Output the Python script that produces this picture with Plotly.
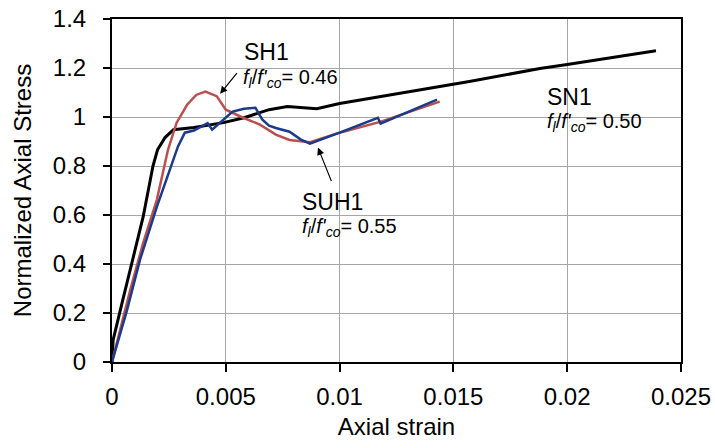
import plotly.graph_objects as go

# SN1 (black)
sn1_x = [0, 0.00005, 0.00044, 0.00093, 0.00137, 0.0018, 0.002, 0.00233, 0.0027, 0.0036, 0.0049,
         0.0058, 0.0069, 0.0077, 0.009, 0.01, 0.0122, 0.0157, 0.0188, 0.02, 0.0239]
sn1_y = [0, 0.09, 0.24, 0.43, 0.593, 0.80, 0.866, 0.916, 0.948, 0.957, 0.977,
         0.997, 1.03, 1.043, 1.034, 1.055, 1.09, 1.145, 1.198, 1.214, 1.27]

# SH1 (red)
sh1_x = [0, 0.0008, 0.00137, 0.00197, 0.00246, 0.00284, 0.0033, 0.0037, 0.0041, 0.0046, 0.0050, 0.00576,
         0.0065, 0.0072, 0.0078, 0.0087, 0.01, 0.01178, 0.0144]
sh1_y = [0, 0.294, 0.486, 0.662, 0.866, 0.977, 1.05, 1.09, 1.104, 1.085, 1.03, 0.997,
         0.969, 0.928, 0.906, 0.897, 0.936, 0.98, 1.063]

# SUH1 (blue)
suh1_x = [0, 0.00066, 0.00123, 0.00197, 0.0029, 0.0032, 0.0036, 0.00387, 0.0042, 0.0044, 0.0049,
          0.0053, 0.0058, 0.0063, 0.0066, 0.0069, 0.0072, 0.0078, 0.0083, 0.0087, 0.01,
          0.01168, 0.0118, 0.01296, 0.01428]
suh1_y = [0, 0.212, 0.417, 0.633, 0.88, 0.936, 0.945, 0.96, 0.975, 0.948, 0.99,
          1.022, 1.034, 1.038, 0.99, 0.965, 0.955, 0.94, 0.908, 0.891, 0.936,
          0.997, 0.973, 1.018, 1.071]

x_ticks = [0, 0.005, 0.01, 0.015, 0.02, 0.025]
x_tick_labels = ["0", "0.005", "0.01", "0.015", "0.02", "0.025"]
y_ticks = [0, 0.2, 0.4, 0.6, 0.8, 1.0, 1.2, 1.4]
y_tick_labels = ["0", "0.2", "0.4", "0.6", "0.8", "1", "1.2", "1.4"]

FONT = "Liberation Sans, Arial, sans-serif"

fig = go.Figure()
fig.add_trace(go.Scatter(x=sn1_x, y=sn1_y, mode="lines", name="SN1",
                         line=dict(color="#000000", width=3)))
fig.add_trace(go.Scatter(x=sh1_x, y=sh1_y, mode="lines", name="SH1",
                         line=dict(color="#B9504E", width=2.5)))
fig.add_trace(go.Scatter(x=suh1_x, y=suh1_y, mode="lines", name="SUH1",
                         line=dict(color="#1C3A8A", width=2.5)))

def ratio(v):
    return "<i>f</i><sub><i>l</i></sub>/<i>f'</i><sub><i>co</i></sub>= " + v

labels = [
    (0.00575, 1.267, "SH1", 23),
    (0.00570, 1.158, ratio("0.46"), 20),
    (0.00830, 0.655, "SUH1", 23),
    (0.00830, 0.548, ratio("0.55"), 20),
    (0.01905, 1.083, "SN1", 23),
    (0.01905, 0.978, ratio("0.50"), 20),
]
annotations = []
for x, y, t, s in labels:
    annotations.append(dict(x=x, y=y, xref="x", yref="y", text=t,
                            showarrow=False, xanchor="left", yanchor="middle",
                            borderpad=0,
                            font=dict(family=FONT, color="#000", size=s)))
# arrows (head at data point, tail offset in pixels)
annotations.append(dict(x=0.00475, y=1.095, xref="x", yref="y", text="",
                        showarrow=True, arrowhead=2, arrowsize=1.2, arrowwidth=1.2,
                        arrowcolor="#000", ax=18, ay=-22))
annotations.append(dict(x=0.00905, y=0.875, xref="x", yref="y", text="",
                        showarrow=True, arrowhead=2, arrowsize=1.2, arrowwidth=1.2,
                        arrowcolor="#000", ax=14, ay=35))

fig.update_layout(
    width=715, height=448,
    margin=dict(l=112, r=34, t=19, b=86),
    paper_bgcolor="white", plot_bgcolor="white",
    showlegend=False,
    font=dict(family=FONT, color="#000", size=24),
    annotations=annotations,
    xaxis=dict(range=[0, 0.025], tickvals=x_ticks, ticktext=x_tick_labels,
               showgrid=True, gridcolor="#A6A6A6", gridwidth=1,
               showline=True, linecolor="#000", linewidth=2, mirror=True,
               ticks="outside", ticklen=8, tickcolor="#000", tickwidth=1.5,
               zeroline=False, tickfont=dict(size=24), ticklabelstandoff=4,
               automargin=False,
               title=dict(text="Axial strain", font=dict(size=24), standoff=9)),
    yaxis=dict(range=[0, 1.4], tickvals=y_ticks, ticktext=y_tick_labels,
               showgrid=True, gridcolor="#A6A6A6", gridwidth=1,
               showline=True, linecolor="#000", linewidth=2, mirror=True,
               ticks="outside", ticklen=7, tickcolor="#000", tickwidth=1.5,
               zeroline=False, tickfont=dict(size=24), ticklabelstandoff=12,
               automargin=False,
               title=dict(text="Normalized Axial Stress", font=dict(size=24), standoff=14)),
)

fig.write_html("out.html", config={"displayModeBar": False},
               post_script="document.body.style.margin='0';")
